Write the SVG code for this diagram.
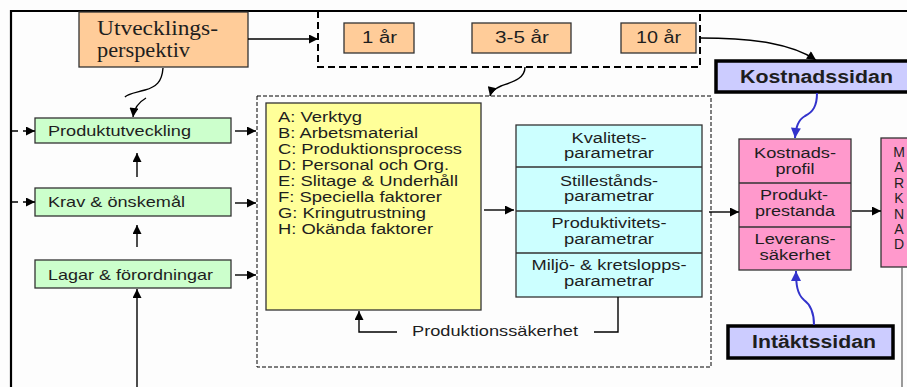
<svg xmlns="http://www.w3.org/2000/svg" width="907" height="387" viewBox="0 0 907 387">
  <style>
    .box { stroke: #333; stroke-width: 1.3; }
    .peach { fill: #FFCC99; }
    .green { fill: #CCFFCC; }
    .yellow { fill: #FFFF99; }
    .cyan { fill: #CCFFFF; }
    .pink { fill: #FF99CC; }
    .side { fill: #CCCCFF; stroke: #000; stroke-width: 3.5; }
    text { font-family: "Liberation Sans", Arial, sans-serif; fill: #1e1e1e; }
    .t15 { font-size: 15px; }
    .t14 { font-size: 14px; }
    .t16 { font-size: 16px; }
    .vert { font-size: 14px; writing-mode: vertical-rl; text-orientation: upright; letter-spacing: -0.6px; }
    .bold { font-size: 18px; font-weight: bold; }
    .serif { font-family: "Liberation Serif", "Times New Roman", serif; font-size: 21px; }
    .mid { text-anchor: middle; }
    .conn { fill: none; stroke: #000; stroke-width: 1.4; }
    .blue { fill: none; stroke: #3333CC; stroke-width: 2; }
  </style>
  <defs>
    <marker id="ah" viewBox="0 0 10 10" refX="10" refY="5" markerWidth="11" markerHeight="9" markerUnits="userSpaceOnUse" orient="auto">
      <path d="M0,0 L10,5 L0,10 z" fill="#000"/>
    </marker>
    <marker id="ahb" viewBox="0 0 10 10" refX="10" refY="5" markerWidth="11" markerHeight="10" markerUnits="userSpaceOnUse" orient="auto">
      <path d="M0,0 L10,5 L0,10 z" fill="#3333CC"/>
    </marker>
  </defs>

  <rect x="0" y="0" width="907" height="387" fill="#fdfdfd"/>

  <!-- outer frame -->
  <path d="M11,387 V11 H907" fill="none" stroke="#000" stroke-width="2.2"/>

  <!-- time horizon frame and the working-area frame -->
  <rect x="318" y="11" width="382" height="56" fill="none" stroke="#000" stroke-width="2" stroke-dasharray="7 4"/>
  <rect x="257" y="96" width="454" height="271" fill="none" stroke="#000" stroke-width="1" stroke-dasharray="4 2"/>

  <g id="utvecklingsperspektiv">
    <rect class="box peach" x="79" y="12" width="169" height="55" stroke-width="2"/>
    <text class="serif" x="97" y="35" textLength="121" lengthAdjust="spacingAndGlyphs">Utvecklings-</text>
    <text class="serif" x="97" y="57" textLength="93" lengthAdjust="spacingAndGlyphs">perspektiv</text>
  </g>

  <g id="ar1">
    <rect class="box peach" x="344" y="23" width="70" height="30"/>
    <text class="t16" x="362" y="43" textLength="35" lengthAdjust="spacingAndGlyphs">1 år</text>
  </g>
  <g id="ar3-5">
    <rect class="box peach" x="472" y="23" width="99" height="30"/>
    <text class="t16" x="495" y="43" textLength="54" lengthAdjust="spacingAndGlyphs">3-5 år</text>
  </g>
  <g id="ar10">
    <rect class="box peach" x="621" y="23" width="75" height="30"/>
    <text class="t16" x="636" y="43" textLength="45" lengthAdjust="spacingAndGlyphs">10 år</text>
  </g>

  <g id="produktutveckling">
    <rect class="box green" x="35" y="118" width="196" height="25"/>
    <text class="t15" x="48" y="136" textLength="143" lengthAdjust="spacingAndGlyphs">Produktutveckling</text>
  </g>
  <g id="krav">
    <rect class="box green" x="35" y="188" width="196" height="28"/>
    <text class="t15" x="48" y="207" textLength="137" lengthAdjust="spacingAndGlyphs">Krav &amp; önskemål</text>
  </g>
  <g id="lagar">
    <rect class="box green" x="35" y="260" width="196" height="28"/>
    <text class="t15" x="48" y="279.5" textLength="165" lengthAdjust="spacingAndGlyphs">Lagar &amp; förordningar</text>
  </g>

  <g id="faktorer">
    <rect class="box yellow" x="266" y="103" width="215" height="207"/>
    <text class="t14" x="278" y="122" textLength="84" lengthAdjust="spacingAndGlyphs">A: Verktyg</text>
    <text class="t14" x="278" y="138" textLength="140" lengthAdjust="spacingAndGlyphs">B: Arbetsmaterial</text>
    <text class="t14" x="278" y="154" textLength="184" lengthAdjust="spacingAndGlyphs">C: Produktionsprocess</text>
    <text class="t14" x="278" y="170" textLength="171" lengthAdjust="spacingAndGlyphs">D: Personal och Org.</text>
    <text class="t14" x="278" y="186" textLength="180" lengthAdjust="spacingAndGlyphs">E: Slitage &amp; Underhåll</text>
    <text class="t14" x="278" y="202" textLength="164" lengthAdjust="spacingAndGlyphs">F: Speciella faktorer</text>
    <text class="t14" x="278" y="218" textLength="148" lengthAdjust="spacingAndGlyphs">G: Kringutrustning</text>
    <text class="t14" x="278" y="234" textLength="155" lengthAdjust="spacingAndGlyphs">H: Okända faktorer</text>
  </g>

  <g id="parametrar">
    <rect class="box cyan" x="516" y="125" width="186" height="172"/>
    <path d="M516,167 H702 M516,211 H702 M516,253 H702" stroke="#333" stroke-width="1.3"/>
    <text class="t14 mid" x="609" y="143" textLength="75" lengthAdjust="spacingAndGlyphs">Kvalitets-</text>
    <text class="t14 mid" x="609" y="158" textLength="90" lengthAdjust="spacingAndGlyphs">parametrar</text>
    <text class="t14 mid" x="609" y="186" textLength="98" lengthAdjust="spacingAndGlyphs">Stillestånds-</text>
    <text class="t14 mid" x="609" y="201" textLength="90" lengthAdjust="spacingAndGlyphs">parametrar</text>
    <text class="t14 mid" x="609" y="228" textLength="115" lengthAdjust="spacingAndGlyphs">Produktivitets-</text>
    <text class="t14 mid" x="609" y="244" textLength="90" lengthAdjust="spacingAndGlyphs">parametrar</text>
    <text class="t14 mid" x="609" y="270" textLength="155" lengthAdjust="spacingAndGlyphs">Miljö- &amp; kretslopps-</text>
    <text class="t14 mid" x="609" y="286" textLength="90" lengthAdjust="spacingAndGlyphs">parametrar</text>
  </g>

  <g id="kostnadssidan">
    <rect class="side" x="716" y="61" width="200" height="31"/>
    <text class="bold" x="740" y="83" textLength="153" lengthAdjust="spacingAndGlyphs">Kostnadssidan</text>
  </g>

  <g id="intaktssidan">
    <rect class="side" x="728" y="326" width="165" height="32"/>
    <text class="bold" x="752" y="348" textLength="124" lengthAdjust="spacingAndGlyphs">Intäktssidan</text>
  </g>

  <g id="kundvarde">
    <rect class="box pink" x="739" y="139" width="112" height="131"/>
    <path d="M739,183 H851 M739,227 H851" stroke="#333" stroke-width="1.3"/>
    <text class="t14 mid" x="795" y="158" textLength="82" lengthAdjust="spacingAndGlyphs">Kostnads-</text>
    <text class="t14 mid" x="795" y="174" textLength="39" lengthAdjust="spacingAndGlyphs">profil</text>
    <text class="t14 mid" x="794" y="200" textLength="68" lengthAdjust="spacingAndGlyphs">Produkt-</text>
    <text class="t14 mid" x="795" y="216" textLength="80" lengthAdjust="spacingAndGlyphs">prestanda</text>
    <text class="t14 mid" x="795" y="244" textLength="81" lengthAdjust="spacingAndGlyphs">Leverans-</text>
    <text class="t14 mid" x="795" y="260" textLength="71" lengthAdjust="spacingAndGlyphs">säkerhet</text>
  </g>

  <g id="marknad">
    <rect class="box pink" x="881" y="138" width="40" height="129"/>
    <text class="vert" x="899" y="144">MARKNAD</text>
  </g>

  <g id="connectors">
    <!-- perspective to time horizons -->
    <path class="conn" d="M248,39 H318" marker-end="url(#ah)"/>
    <!-- time horizons to cost side -->
    <path class="conn" d="M700,38 C755,38 792,44 816,60" marker-end="url(#ah)"/>
    <!-- perspective to product development -->
    <path class="conn" d="M163,68 C162,82 156,87 145,90 C134,93 127,94 125,97"/>
    <path class="conn" d="M146,98 C139,102 134,108 133,117" marker-end="url(#ah)"/>
    <!-- time horizons to working area -->
    <path class="conn" d="M525,67 C525,79 512,82 501,86 C494,89 491,92 490,96" marker-end="url(#ah)"/>
    <!-- incoming from the left -->
    <path class="conn" d="M12,131 H35" stroke-dasharray="6 5 40" marker-end="url(#ah)"/>
    <path class="conn" d="M12,202 H35" stroke-dasharray="6 5 40" marker-end="url(#ah)"/>
    <!-- upward chain -->
    <path class="conn" d="M137,177 V153" marker-end="url(#ah)"/>
    <path class="conn" d="M137,247 V225" marker-end="url(#ah)"/>
    <path class="conn" d="M137,387 V289" marker-end="url(#ah)"/>
    <!-- into the working area -->
    <path class="conn" d="M235,131 H256" marker-end="url(#ah)"/>
    <path class="conn" d="M235,203 H256" marker-end="url(#ah)"/>
    <path class="conn" d="M235,275 H256" marker-end="url(#ah)"/>
    <!-- factors to parameters -->
    <path class="conn" d="M484,210 H514" marker-end="url(#ah)"/>
    <!-- production safety feedback -->
    <path class="conn" d="M618,297 V332 H594" stroke="#333"/>
    <path class="conn" d="M397,332 H359 V311" marker-end="url(#ah)"/>
    <text class="t15" x="412" y="336" textLength="166" lengthAdjust="spacingAndGlyphs">Produktionssäkerhet</text>
    <!-- parameters to customer value -->
    <path class="conn" d="M709,212 H739" marker-end="url(#ah)"/>
    <!-- customer value to market -->
    <path class="conn" d="M852,211 H881" marker-end="url(#ah)"/>
    <path d="M902,267 V387" stroke="#666" stroke-width="1.3"/>
    <!-- cost and income sides -->
    <path class="blue" d="M817,93 C817,106 813,112 805,116 C798,120 796,127 795,138" marker-end="url(#ahb)"/>
    <path class="blue" d="M814,325 C814,312 811,305 804,300 C797,294 796,284 796,271" marker-end="url(#ahb)"/>
  </g>
</svg>
